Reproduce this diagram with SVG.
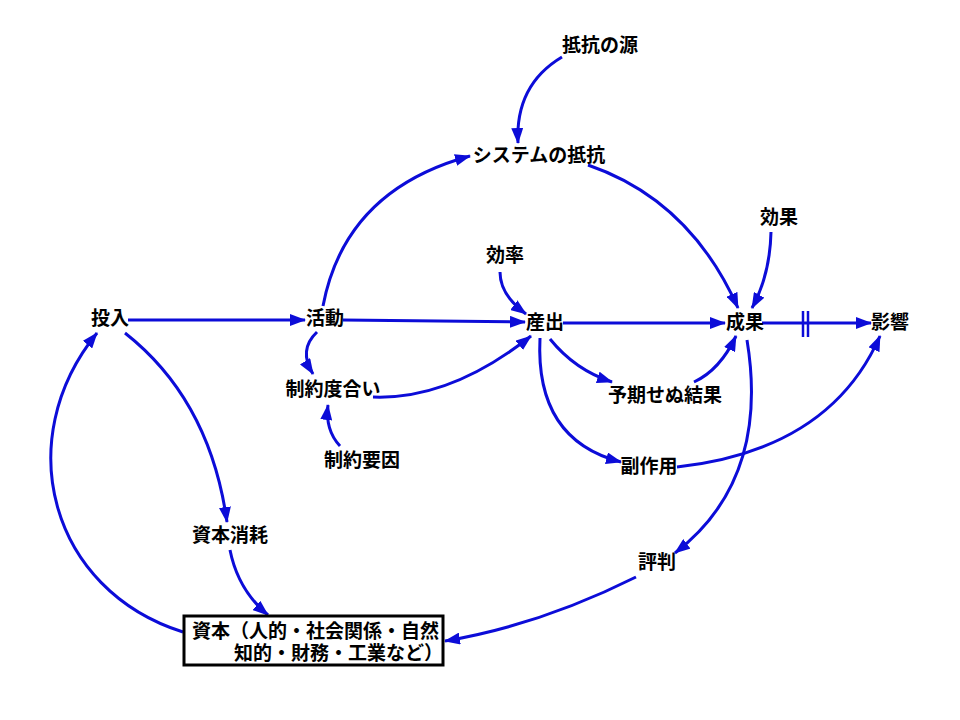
<svg xmlns="http://www.w3.org/2000/svg" width="960" height="720" viewBox="0 0 960 720">
<defs>
<marker id="ah" viewBox="0 0 16 12" refX="15" refY="6" markerWidth="16" markerHeight="12" markerUnits="userSpaceOnUse" orient="auto">
<path d="M0,0 L16,6 L0,12 z" fill="#0c0cd8"/>
</marker>
<style>
.t{font-family:"Liberation Sans","Noto Sans CJK JP",sans-serif;font-size:19px;font-weight:bold;fill:#000;text-anchor:middle;dominant-baseline:central}
.c{fill:none;stroke:#0c0cd8;stroke-width:3;marker-end:url(#ah)}
.h{stroke:#0c0cd8;stroke-width:2.5}
</style>
</defs>
<rect width="960" height="720" fill="#fff"/>
<g id="connectors">
<path class="c" d="M562,57 Q515,85 518,143"/>
<path class="c" d="M323,306 Q345,190 470,156"/>
<path class="c" d="M588,165 Q690,200 738,308"/>
<path class="c" d="M771,232 Q770,275 752,308"/>
<path class="c" d="M500,272 Q500,295 526,314"/>
<path class="c" d="M128,320 L305,320"/>
<path class="c" d="M343,320 L525,322"/>
<path class="c" d="M563,323 L725,323"/>
<path class="c" d="M762,323 L871,323"/>
<line class="h" x1="803" y1="311" x2="803" y2="337"/>
<line class="h" x1="808" y1="311" x2="808" y2="337"/>
<path class="c" d="M317,332 Q298,350 313,374"/>
<path class="c" d="M373,397 Q450,400 531,336"/>
<path class="c" d="M340,446 Q325,430 328,405"/>
<path class="c" d="M550,339 Q575,370 612,382"/>
<path class="c" d="M694,382 Q720,370 736,336"/>
<path class="c" d="M540,338 Q535,440 621,462"/>
<path class="c" d="M677,467 Q830,450 880,336"/>
<path class="c" d="M747,340 Q770,480 675,553"/>
<path class="c" d="M636,577 Q540,625 445,641"/>
<path class="c" d="M125,333 Q210,400 227,522"/>
<path class="c" d="M230,550 Q238,590 268,615"/>
<path class="c" d="M183,632 C50,590 10,440 97,333"/>
</g>
<g id="n-teikounominamoto"><text class="t" x="600" y="45">抵抗の源</text></g>
<g id="n-system"><text class="t" x="539" y="155">システムの抵抗</text></g>
<g id="n-kouka"><text class="t" x="779" y="217">効果</text></g>
<g id="n-kouritsu"><text class="t" x="505" y="255">効率</text></g>
<g id="n-tounyu"><text class="t" x="110" y="318">投入</text></g>
<g id="n-katsudou"><text class="t" x="325" y="318">活動</text></g>
<g id="n-sanshutsu"><text class="t" x="545" y="322">産出</text></g>
<g id="n-seika"><text class="t" x="745" y="322">成果</text></g>
<g id="n-eikyou"><text class="t" x="890" y="322">影響</text></g>
<g id="n-seiyakudoai"><text class="t" x="333" y="389">制約度合い</text></g>
<g id="n-yoki"><text class="t" x="665" y="395">予期せぬ結果</text></g>
<g id="n-seiyakuyouin"><text class="t" x="362" y="460">制約要因</text></g>
<g id="n-fukusayou"><text class="t" x="649" y="466">副作用</text></g>
<g id="n-shihonshoumou"><text class="t" x="230" y="535">資本消耗</text></g>
<g id="n-hyouban"><text class="t" x="657" y="562">評判</text></g>
<g id="n-shihon">
<rect x="184" y="616" width="259" height="49" fill="#fff" stroke="#000" stroke-width="3"/>
<text class="t" x="192" y="631" style="text-anchor:start">資本（人的・社会関係・自然</text>
<text class="t" x="234" y="653" style="text-anchor:start">知的・財務・工業など）</text>
</g>
</svg>
